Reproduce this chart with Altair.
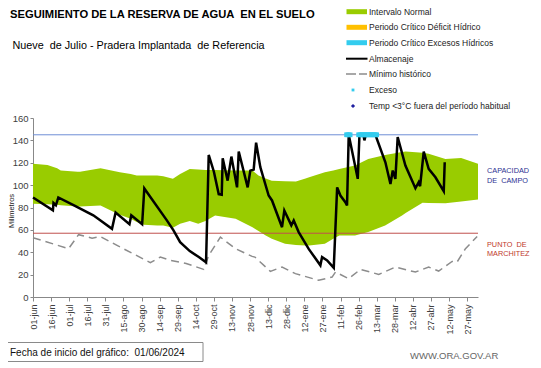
import altair as alt
import pandas as pd

# ---------------- data ----------------
tick_labels = ["01-jun", "16-jun", "01-jul", "16-jul", "31-jul", "15-ago", "30-ago", "14-sep",
               "29-sep", "14-oct", "29-oct", "13-nov", "28-nov", "13-dic", "28-dic", "12-ene",
               "27-ene", "11-feb", "26-feb", "13-mar", "28-mar", "12-abr", "27-abr", "12-may", "27-may"]
tick_days = [15 * i for i in range(len(tick_labels))]

band_days = [0, 12, 20, 23, 37, 39, 56, 70, 72, 81, 86, 92, 103, 108, 116, 122, 130, 137, 143, 151,
             168, 182, 187, 193, 198, 209, 218, 226, 229, 242, 249, 254, 267, 278, 292, 306, 309,
             323, 328, 342, 355, 369]
band_high = [119, 118, 115, 113, 112, 112, 115, 112, 111.5, 110, 108.6, 108.5, 108.6, 108, 105.6,
             110, 114.5, 114, 113.6, 113.5, 113, 113, 108.6, 106, 104, 103.5, 103.2, 106, 107,
             111.5, 113, 114.5, 117.5, 123.4, 127, 129.5, 130, 129, 128, 123.4, 124.3, 119]
band_low = [83.3, 83, 82.4, 82, 80.9, 81, 81.8, 74.4, 73.5, 70, 67, 64.6, 64, 64, 61.9, 65.5, 68,
            65.5, 68, 72.9, 70, 62.4, 59, 55, 52, 47.6, 46.5, 46.1, 46, 47.6, 52, 55, 55, 58, 64,
            72.9, 75, 84.2, 84, 83.9, 85.4, 87.2]

alm_days = [0, 16.5, 17, 19, 21, 34, 50, 65.5, 68.5, 80, 81.5, 90.5, 92.3, 111, 116.5, 122, 130,
            137.5, 143.5, 145.7, 150, 154, 156.5, 157.3, 161.4, 164.5, 169.2, 170.6, 178, 180.2,
            183, 185, 188.5, 195.4, 198.2, 206.5, 208.4, 214.2, 216.2, 220.3, 228.6, 238.3, 239.7,
            243.9, 249.4, 252.2, 254.9, 259, 260.4, 261.8, 269.3, 270.7, 274, 274.8, 276, 283.9,
            292.2, 296.4, 298.3, 300.5, 302.4, 308.8, 317.1, 319.8, 321, 324, 328.1, 333.7, 340.6,
            341.4]
alm_vals = [89, 77.5, 84, 82, 89, 82, 73, 61, 75.5, 65, 73, 65, 97, 68.5, 59.5, 49, 41,
            35.7, 31, 127, 112, 92, 91.5, 124, 104, 125.5, 98, 130, 98, 113,
            114, 138, 116, 90.7, 86.3, 62.4, 77.3, 64, 68.4, 58, 43, 28.3, 35.7,
            32.7, 26, 98, 90.7, 84.8, 81.8, 145, 105.6, 145, 145, 140, 145, 145,
            120.4, 101, 113, 105.6, 143, 117.5, 97.2, 102.6, 99, 130, 114.5, 107, 94.6,
            120.4]

min_days = [0, 29.5, 37.8, 49, 55.8, 69.7, 97.3, 105.6, 113.9, 127, 141.5, 145.7, 155.4, 167.8,
            181.7, 184, 196.8, 206.5, 217.6, 236.9, 248, 250.8, 261.8, 271.5, 286.7, 300.5, 317.1,
            328.1, 336.4, 347.5, 351.5, 358.6, 368.3]
min_vals = [53, 43.2, 55.7, 52.6, 54.1, 46.1, 30.7, 35.7, 32.7, 30, 24.7, 37.2, 53.5, 43.2,
            36.3, 35.7, 22.9, 26.8, 20.9, 14.9, 17.8, 22.3, 16.4, 24.7, 20.2, 26.8, 22.3,
            26.8, 23.2, 31.8, 31, 43.2, 54.1]

exceso_days = [260, 261, 262, 263, 270, 271, 272, 273, 274, 275, 276, 277, 278, 279, 280, 281,
               282, 283, 284, 285]
exceso_level = 145

capacidad = 145
marchitez = 57

legend_labels = ["Intervalo Normal", "Periodo Crítico Déficit Hídrico", "Periodo Crítico Excesos Hídricos",
                 "Almacenaje", "Mínimo histórico", "Exceso", "Temp <3°C fuera del período habitual"]

NB = "\u00a0"

# ---------------- build ----------------
W, H = 445, 179
FONT = "Liberation Sans"

xs = alt.Scale(domain=[0, 369], nice=False, zero=False)
ys = alt.Scale(domain=[0, 160], nice=False)

label_arr = "[" + ",".join("'%s'" % t for t in tick_labels) + "]"

band_df = pd.DataFrame({"d": band_days, "lo": band_low, "hi": band_high})
alm_df = pd.DataFrame({"d": alm_days, "v": alm_vals})
min_df = pd.DataFrame({"d": min_days, "v": min_vals})
exc_df = pd.DataFrame({"d": exceso_days, "v": [exceso_level] * len(exceso_days)})
ref_df = pd.DataFrame({"v": [capacidad, marchitez], "c": ["cap", "mar"]})

x_axis = alt.Axis(values=tick_days, labelExpr=label_arr + "[round(datum.value/15)]",
                  labelAngle=-90, labelAlign="right", labelBaseline="middle", labelPadding=3,
                  labelFontSize=9, labelFont=FONT, labelColor="#404040", tickSize=4,
                  tickColor="#888888", domainColor="#888888", grid=False, title=None,
                  labelOverlap=False, labelBound=False, labelFlush=False)
y_axis = alt.Axis(values=list(range(0, 161, 20)), labelFontSize=9.5, labelFont=FONT,
                  labelColor="#404040", tickSize=3, tickColor="#888888", domainColor="#888888",
                  grid=False, title=None, labelPadding=2)

X = alt.X("d:Q", scale=xs, axis=x_axis)

band = alt.Chart(band_df).mark_area(color="#99cc00", opacity=1).encode(
    x=X, y=alt.Y("lo:Q", scale=ys, axis=y_axis), y2="hi:Q")

rule_cap = alt.Chart(ref_df[ref_df.c == "cap"]).mark_rule(color="#6f8fd6", strokeWidth=1).encode(
    y=alt.Y("v:Q", scale=ys, axis=y_axis))
rule_mar = alt.Chart(ref_df[ref_df.c == "mar"]).mark_rule(color="#c0504d", strokeWidth=1).encode(
    y=alt.Y("v:Q", scale=ys, axis=y_axis))

min_line = alt.Chart(min_df).mark_line(color="#8c8c8c", strokeWidth=1.5, strokeDash=[8, 5]).encode(
    x=X, y=alt.Y("v:Q", scale=ys, axis=y_axis))

alm_line = alt.Chart(alm_df).mark_line(color="#000000", strokeWidth=2.5, strokeJoin="miter").encode(
    x=X, y=alt.Y("v:Q", scale=ys, axis=y_axis))

exc_pts = alt.Chart(exc_df).mark_square(color="#33ccee", size=22, opacity=1).encode(
    x=X, y=alt.Y("v:Q", scale=ys, axis=y_axis))

one = pd.DataFrame({"a": [0]})

def txt(s, x, y, size, color="#000000", weight="normal", angle=0, align="left", baseline="alphabetic"):
    return alt.Chart(pd.DataFrame({"t": [s]})).mark_text(
        font=FONT, fontSize=size, color=color, fontWeight=weight, align=align,
        baseline=baseline, angle=angle).encode(text="t:N", x=alt.value(x), y=alt.value(y))

OX, OY = 33, 118
layers = [band, rule_cap, rule_mar, min_line, alm_line, exc_pts]

# titles
layers.append(txt("SEGUIMIENTO DE LA RESERVA DE AGUA " + NB + "EN EL SUELO", 10 - OX, 18 - OY, 11.2, weight="bold"))
layers.append(txt("Nueve " + NB + "de Julio - Pradera Implantada " + NB + "de Referencia", 12.5 - OX, 48.5 - OY, 10.8))

# y-axis title
layers.append(txt("Milimetros", 14 - OX, 211 - OY, 7.5, color="#222222", angle=270, align="center"))

# right annotations
layers.append(txt("CAPACIDAD", 487 - OX, 173 - OY, 7.3, color="#2e3192"))
layers.append(txt("DE " + NB + "CAMPO", 487 - OX, 183 - OY, 7.3, color="#2e3192"))
layers.append(txt("PUNTO " + NB + "DE", 487 - OX, 247 - OY, 7.3, color="#c0392b"))
layers.append(txt("MARCHITEZ", 487 - OX, 256 - OY, 7.3, color="#c0392b"))

# legend
rows_y = [11.7, 27.3, 42.7, 58.7, 74, 90, 106]
sym_cols = ["#99cc00", "#ffc000", "#33ccee"]
for i in range(3):
    layers.append(alt.Chart(one).mark_rect(color=sym_cols[i]).encode(
        x=alt.value(346.5 - OX), x2=alt.value(367 - OX),
        y=alt.value(rows_y[i] - 2.5 - OY), y2=alt.value(rows_y[i] + 2.5 - OY)))
layers.append(alt.Chart(one).mark_rule(color="#000000", strokeWidth=2).encode(
    x=alt.value(346 - OX), x2=alt.value(367.5 - OX), y=alt.value(rows_y[3] - OY)))
layers.append(alt.Chart(one).mark_rule(color="#8c8c8c", strokeWidth=1.5, strokeDash=[10, 3, 8, 2]).encode(
    x=alt.value(346 - OX), x2=alt.value(367 - OX), y=alt.value(rows_y[4] - OY)))
layers.append(alt.Chart(one).mark_square(color="#33ccee", size=8, opacity=1).encode(
    x=alt.value(353 - OX), y=alt.value(rows_y[5] - OY)))
layers.append(alt.Chart(one).mark_point(shape="diamond", filled=True, color="#1f1fa0", size=18, opacity=1).encode(
    x=alt.value(353 - OX), y=alt.value(rows_y[6] - OY)))
for i, lab in enumerate(legend_labels):
    layers.append(txt(lab, 369 - OX, rows_y[i] - OY, 8.5, color="#222222", baseline="middle"))

# bottom box
layers.append(alt.Chart(one).mark_rect(fill="#ffffff", stroke="#8a8a8a", strokeWidth=1).encode(
    x=alt.value(4.5 - OX), x2=alt.value(203 - OX), y=alt.value(342.5 - OY), y2=alt.value(361.5 - OY)))
layers.append(txt("Fecha de inicio del gráfico: " + NB + "01/06/2024", 10 - OX, 356 - OY, 10, color="#111111"))
layers.append(txt("WWW.ORA.GOV.AR", 410 - OX, 359 - OY, 9.5, color="#666666"))

chart = alt.layer(*layers).properties(
    width=W, height=H,
    autosize=alt.AutoSizeParams(type="none"),
    padding={"left": OX - 8, "top": OY - 8, "right": 541 - 16 - (OX - 8) - W, "bottom": 65},
).configure_view(stroke=None).configure_axisX(labelOverlap=False, labelBound=False)

chart.save("out.html", embed_options={"renderer": "svg", "actions": False})
